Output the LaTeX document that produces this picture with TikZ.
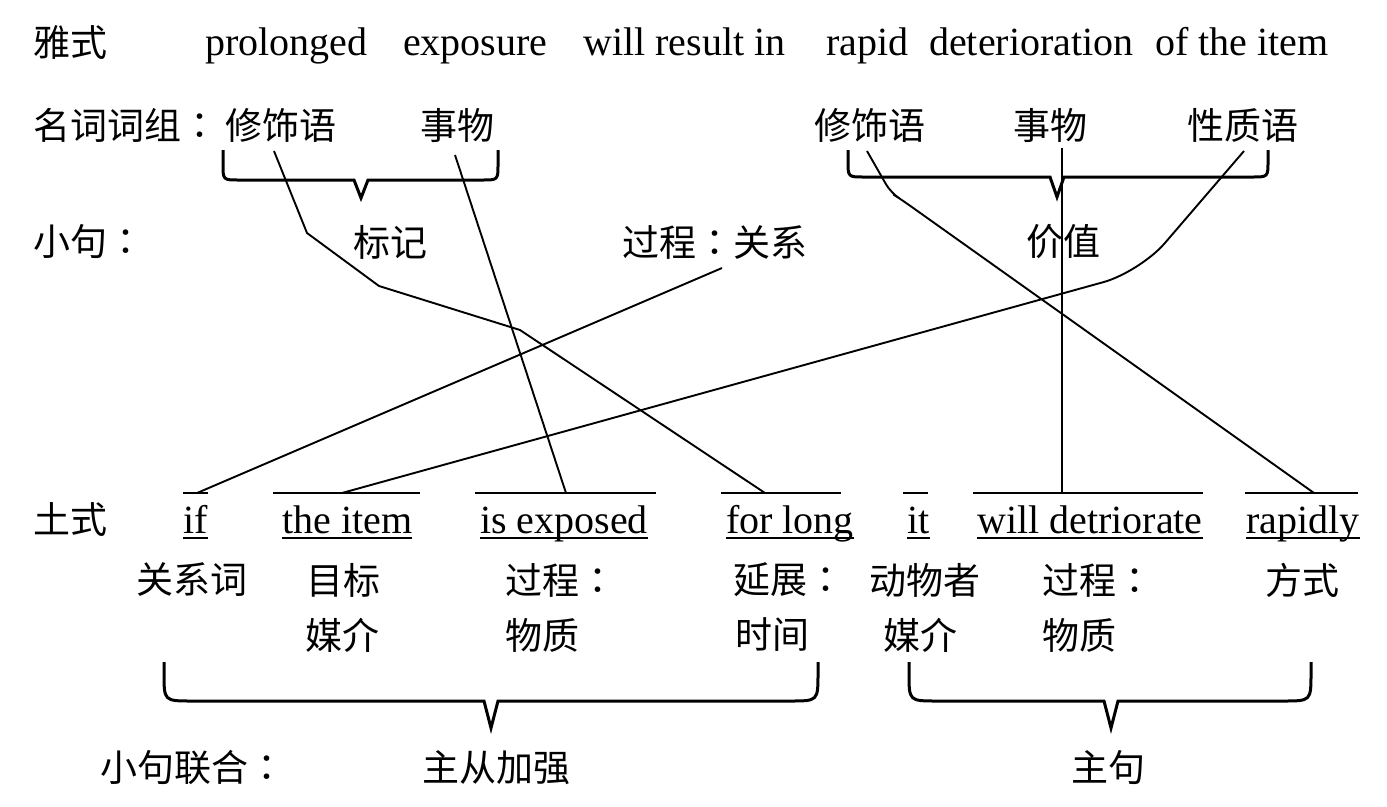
\documentclass[tikz,border=0pt]{standalone}
\usepackage{fontspec}
\setmainfont{Liberation Serif}
\newfontfamily\cjk{Noto Sans CJK SC}
\newfontfamily\cjktc{Noto Sans CJK TC}
\newcommand\cc{{\cjktc ：}}
\newcommand\mybrace[7]{%
  \draw[bracestyle] (#1,#3) -- (#1,#4-#7) .. controls (#1,#4) .. (#1+#7,#4)
    -- (#5-7,#4) -- (#5,#6) -- (#5+7,#4) -- (#2-#7,#4)
    .. controls (#2,#4) .. (#2,#4-#7) -- (#2,#3);}
\begin{document}
\begin{tikzpicture}[x=1pt,y=-1pt,
  zh/.style={font=\cjk\fontsize{37}{40}\selectfont,inner sep=0pt},
  zhl/.style={zh,anchor=west},
  en/.style={font=\fontsize{40}{44}\selectfont,inner sep=0pt,anchor=base west},
  link/.style={line width=1.9pt,line join=round},
  bar/.style={line width=1.9pt},
  bracestyle/.style={line width=3pt,line join=miter}]
\useasboundingbox (0,0) rectangle (1387,806);
% Row 1
\node[zhl] (r1) at (33,43) {雅式};
\node[en] (e1) at (205,55) {prolonged};
\node[en] (e2) at (403,55) {exposure};
\node[en] (e3) at (583,55) {will result in};
\node[en] (e4) at (826,55) {rapid};
\node[en] (e5) at (929,55) {deterioration};
\node[en] (e6) at (1155,55) {of the item};
% Row 2
\node[zhl] (r2) at (33,125) {名词词组\cc};
\node[zh] (m1) at (281,125) {修饰语};
\node[zh] (t1) at (457,125) {事物};
\node[zh] (m2) at (870,125) {修饰语};
\node[zh] (t2) at (1050,125) {事物};
\node[zh] (q2) at (1243,125) {性质语};
% Row 3
\node[zhl] (r3) at (33,242) {小句\cc};
\node[zh] (bj) at (390,242) {标记};
\node[zh] (gc) at (715,242) {过程\cc 关系};
\node[zh] (jz) at (1063,242) {价值};
% Row 4
\node[zhl] (r4) at (33,520) {土式};
\node[en] (w1) at (183,533) {if};
\node[en] (w2) at (282,533) {the item};
\node[en] (w3) at (480,533) {is exposed};
\node[en] (w4) at (726,533) {for long};
\node[en] (w5) at (907,533) {it};
\node[en] (w6) at (977,533) {will detriorate};
\node[en] (w7) at (1246,533) {rapidly};
\foreach \w in {w1,w2,w3,w4,w5,w6,w7}
  \draw[bar] ([yshift=-5pt]\w.base west) -- ([yshift=-5pt]\w.base east);
% overlines
\coordinate (o1a) at (183,493); \coordinate (o1b) at (208,493);
\coordinate (o2a) at (273,493); \coordinate (o2b) at (420,493);
\coordinate (o3a) at (475,493); \coordinate (o3b) at (656,493);
\coordinate (o4a) at (721,493); \coordinate (o4b) at (841,493);
\coordinate (o5a) at (903,493); \coordinate (o5b) at (928,493);
\coordinate (o6a) at (973,493); \coordinate (o6b) at (1203,493);
\coordinate (o7a) at (1245,493); \coordinate (o7b) at (1358,493);
\foreach \i in {1,...,7} \draw[bar] (o\i a) -- (o\i b);
% Row 5 / 6
\node[zh] (a1) at (192,580) {关系词};
\node[zh] (a2) at (343,580) {目标};
\node[zhl] (a3) at (505,580) {过程\cc};
\node[zhl] (a4) at (733,580) {延展\cc};
\node[zhl] (a5) at (869,580) {动物者};
\node[zhl] (a6) at (1042,580) {过程\cc};
\node[zh] (a7) at (1302,580) {方式};
\node[zh] (b2) at (342,635) {媒介};
\node[zhl] (b3) at (505,635) {物质};
\node[zhl] (b4) at (735,635) {时间};
\node[zh] (b5) at (920,635) {媒介};
\node[zhl] (b6) at (1042,635) {物质};
% Row 7
\node[zhl] (r7) at (100,768) {小句联合\cc};
\node[zh] (zc) at (496,768) {主从加强};
\node[zh] (zj) at (1108,768) {主句};
% braces
\mybrace{223}{498}{150}{180}{361}{198}{16}
\mybrace{848}{1268}{150}{177}{1057}{197}{16}
\mybrace{164}{818}{662}{701}{491}{728}{28}
\mybrace{909}{1311}{662}{701}{1111}{728}{28}
% connector end points
\coordinate (sm1) at (274,151);
\coordinate (st1) at (455,155);
\coordinate (sgc) at (722,268);
\coordinate (sq2) at (1244,151);
\coordinate (sm2) at (867,151);
\coordinate (st2) at (1062,148);
\coordinate (eif) at (197,493);
\coordinate (eitem) at (342,493);
\coordinate (eexp) at (566,493);
\coordinate (efor) at (765,493);
\coordinate (ewill) at (1062,493);
\coordinate (erap) at (1314,493);
\draw[link] (sm1) -- (307,233) -- (379,286) -- (520,330) -- (efor);
\draw[link] (st1) -- (eexp);
\draw[link] (sgc) -- (eif);
\draw[link,rounded corners=38pt] (sq2) -- (1140,272) -- (eitem);
\draw[link,rounded corners=10pt] (sm2) -- (891,193) -- (902,200) -- (erap);
\draw[link] (st2) -- (ewill);
\end{tikzpicture}
\end{document}
